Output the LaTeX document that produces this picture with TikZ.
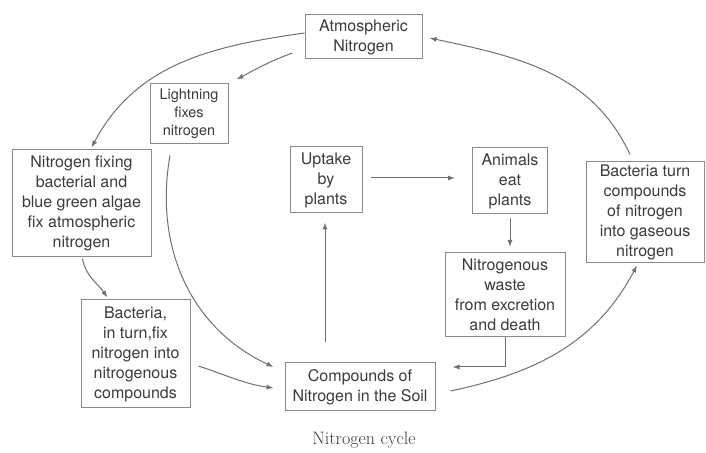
\documentclass[tikz,border=0pt]{standalone}
\usepackage{fontspec}
\newfontfamily\boxfont{TeX Gyre Heros}
\usetikzlibrary{arrows.meta}
\definecolor{boxgray}{HTML}{8A8A8A}
\definecolor{linegray}{HTML}{707070}
\definecolor{txtgray}{HTML}{3A3A3A}
\begin{document}
\begin{tikzpicture}[x=1pt,y=1pt,
  box/.style={draw=boxgray,line width=1pt,align=center,text=txtgray,inner sep=0pt,
    font=\boxfont\fontsize{16}{20}\selectfont},
  arr/.style={draw=linegray,line width=1pt,-{Latex[length=7pt,width=5pt]}}]
\useasboundingbox (0,0) rectangle (706,452);

\node[box,minimum width=117,minimum height=44] (atm) at (363.5,415) {Atmospheric\\Nitrogen};
\node[box,minimum width=78,minimum height=60,font=\boxfont\fontsize{14.5}{18}\selectfont] (light) at (189,338) {Lightning\\fixes\\nitrogen};
\node[box,minimum width=139,minimum height=107] (fix) at (81.5,248.5) {Nitrogen fixing\\bacterial and\\blue green algae\\fix atmospheric\\nitrogen};
\node[box,minimum width=109,minimum height=108] (bact) at (135.5,98) {Bacteria,\\in turn,fix\\nitrogen into\\nitrogenous\\compounds};
\node[box,minimum width=150,minimum height=48] (soil) at (360,65) {Compounds of\\Nitrogen in the Soil};
\node[box,minimum width=72,minimum height=66] (uptake) at (326,272) {Uptake\\by\\plants};
\node[box,minimum width=75,minimum height=66] (animals) at (510,271) {Animals\\eat\\plants};
\node[box,minimum width=120,minimum height=84] (waste) at (505,157.5) {Nitrogenous\\waste\\from excretion\\and death};
\node[box,minimum width=118,minimum height=101] (turn) at (645,239.5) {Bacteria turn\\compounds\\of nitrogen\\into gaseous\\nitrogen};
\node[text=txtgray,font=\fontsize{18}{20}\selectfont] (cap) at (364,12) {Nitrogen cycle};

\draw[arr] ([yshift=4pt]atm.west) to[out=188,in=62] ([xshift=10pt,yshift=2pt]fix.north);
\draw[arr] ([xshift=-12pt,yshift=-16pt]atm.west) to[out=200,in=28] ([xshift=8pt,yshift=4pt]light.north east);
\draw[arr] ([xshift=-19pt,yshift=-11pt]light.south) to[out=-100,in=155] ([xshift=-11pt,yshift=20pt]soil.west);
\draw[arr] ([xshift=1pt,yshift=-1pt]fix.south) to[out=-80,in=125] ([xshift=-28pt,yshift=2pt]bact.north);
\draw[arr] ([xshift=8pt,yshift=-12pt]bact.east) to[out=-18,in=172] ([xshift=-11pt,yshift=-1pt]soil.west);
\draw[arr] ([xshift=-35pt,yshift=20pt]soil.north) -- ([xshift=-1pt,yshift=-9pt]uptake.south);
\draw[arr] ([xshift=8pt,yshift=2pt]uptake.east) -- ([xshift=-17pt,yshift=3pt]animals.west);
\draw[arr] ([yshift=-4pt]animals.south) -- ([yshift=5pt]animals.south |- waste.north);
\draw[arr] (waste.south) |- ([xshift=17pt,yshift=20pt]soil.east);
\draw[arr] ([xshift=15pt,yshift=-4pt]soil.east) to[out=12,in=-118] ([xshift=-8pt,yshift=-2pt]turn.south);
\draw[arr] ([xshift=-15pt,yshift=7pt]turn.north) to[out=115,in=-12] ([xshift=7pt,yshift=-1pt]atm.east);

\end{tikzpicture}
\end{document}
